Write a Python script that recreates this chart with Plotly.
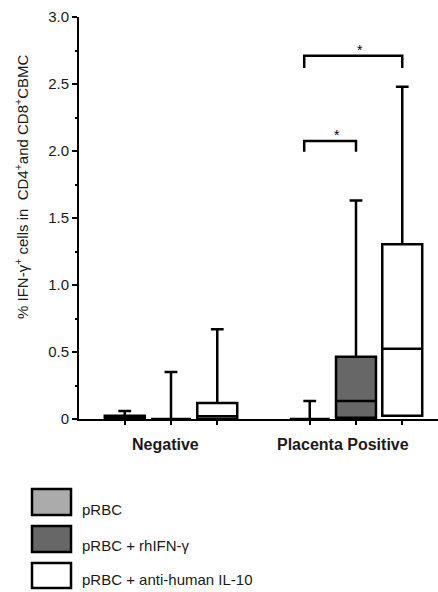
import numpy as np
import plotly.graph_objects as go

# ---------------- data ----------------
CATEGORIES = ["Negative", "Placenta Positive"]
SERIES = ["pRBC", "pRBC + rhIFN-γ", "pRBC + anti-human IL-10"]

# values per category: [Negative, Placenta Positive]
PRBC_Q1 = [0.0, 0.0]
PRBC_MED = [0.0, 0.0]
PRBC_Q3 = [0.025, 0.0]
PRBC_MAX = [0.06, 0.135]

IFN_Q1 = [0.0, 0.01]
IFN_MED = [0.0, 0.135]
IFN_Q3 = [0.0, 0.465]
IFN_MAX = [0.35, 1.63]

IL10_Q1 = [0.0, 0.025]
IL10_MED = [0.02, 0.525]
IL10_Q3 = [0.12, 1.305]
IL10_MAX = [0.67, 2.48]

Y_TICKS = [0, 0.5, 1.0, 1.5, 2.0, 2.5, 3.0]
Y_TICK_LABELS = ["0", "0.5", "1.0", "1.5", "2.0", "2.5", "3.0"]

# significance brackets in the Placenta Positive group (series index pairs)
BRACKET_PAIRS = [(0, 1), (0, 2)]
BRACKET_Y = [2.075, 2.71]
BRACKET_LEG = [0.08, 0.09]
BRACKET_TEXT = ["*", "*"]

# ---------------- style ----------------
FILLS = ["#ababab", "#676767", "#ffffff"]
GROUP_POS = [1.0, 2.0]
OFFSETS = [-0.25, 0.0, 0.25]
BOX_W = 0.216
FONT = "Arial, Liberation Sans, Helvetica, sans-serif"
TXT = "#1a1a1a"

# plot area in pixels
L, R, T, B = 79, 438, 17, 419
W, H = 438, 592


def px_x(px):
    return (px - L) / (R - L)


def px_y(py):
    return (B - py) / (B - T)


stats = [
    (PRBC_Q1, PRBC_MED, PRBC_Q3, PRBC_MAX),
    (IFN_Q1, IFN_MED, IFN_Q3, IFN_MAX),
    (IL10_Q1, IL10_MED, IL10_Q3, IL10_MAX),
]

fig = go.Figure()
all_pos = []
for i, (q1, med, q3, mx) in enumerate(stats):
    xs = [g + OFFSETS[i] for g in GROUP_POS]
    all_pos.extend(xs)
    fig.add_trace(go.Box(
        x=xs, q1=q1, median=med, q3=q3, lowerfence=q1, upperfence=mx,
        width=BOX_W, whiskerwidth=0.32, fillcolor=FILLS[i],
        line=dict(color="black", width=2.5), boxpoints=False,
        name=SERIES[i], showlegend=False, hoverinfo="skip",
    ))

# brackets
annotations = []
g = GROUP_POS[1]
for (a, b), yv, leg, txt in zip(BRACKET_PAIRS, BRACKET_Y, BRACKET_LEG, BRACKET_TEXT):
    xa = g + OFFSETS[a] - 0.03
    xb = g + OFFSETS[b]
    fig.add_trace(go.Scatter(
        x=[xa, xa, xb, xb], y=[yv - leg, yv, yv, yv - leg], mode="lines",
        line=dict(color="black", width=2.5), showlegend=False, hoverinfo="skip",
    ))
    annotations.append(dict(
        x=(xa + xb) / 2, y=yv, xref="x", yref="y", text=txt, showarrow=False,
        xshift=7, yshift=6, font=dict(family=FONT, size=14, color="black"),
        xanchor="center", yanchor="middle",
    ))

# category labels
for cat, gp, sh in zip(CATEGORIES, GROUP_POS, [-6, -13]):
    annotations.append(dict(
        x=gp, y=px_y(444), xref="x", yref="paper", text="<b>" + cat + "</b>",
        showarrow=False, xshift=sh, xanchor="center", yanchor="middle",
        font=dict(family=FONT, size=16, color=TXT),
    ))

# y title
annotations.append(dict(
    x=px_x(22), y=px_y(187), xref="paper", yref="paper",
    text="% IFN-γ<sup>+</sup> cells in  CD4<sup>+</sup>and CD8<sup>+</sup>CBMC",
    textangle=-90, showarrow=False, xanchor="center", yanchor="middle",
    font=dict(family=FONT, size=15, color=TXT),
))

# legend (manual)
shapes = []
LEG_BOX = [(489, 515), (526, 552), (563, 588)]
LEG_TXT_Y = [509, 545, 579]
for i, name in enumerate(SERIES):
    y0, y1 = LEG_BOX[i]
    shapes.append(dict(
        type="rect", xref="paper", yref="paper",
        x0=px_x(32), x1=px_x(71), y0=px_y(y1), y1=px_y(y0),
        fillcolor=FILLS[i], line=dict(color="black", width=2.5),
    ))
    annotations.append(dict(
        x=px_x(80), y=px_y(LEG_TXT_Y[i]), xref="paper", yref="paper",
        text=name, showarrow=False, xanchor="left", yanchor="middle",
        font=dict(family=FONT, size=15, color=TXT),
    ))

x0 = GROUP_POS[0] - (171 - L) / 185.0
x1 = GROUP_POS[1] + (R - 356) / 185.0

fig.update_layout(
    width=W, height=H,
    margin=dict(l=L, r=W - R, t=T, b=H - B, pad=0),
    plot_bgcolor="white", paper_bgcolor="white",
    showlegend=False,
    annotations=annotations, shapes=shapes,
    xaxis=dict(
        range=[x0, x1], tickmode="array", tickvals=all_pos, showticklabels=False,
        ticks="outside", ticklen=4, tickwidth=2, tickcolor="black",
        showline=True, linewidth=2, linecolor="black",
        showgrid=False, zeroline=False, fixedrange=True,
    ),
    yaxis=dict(
        range=[0, 3.0], tickmode="array", tickvals=Y_TICKS, ticktext=Y_TICK_LABELS,
        ticks="outside", ticklen=5, tickwidth=2, tickcolor="black",
        showline=True, linewidth=2, linecolor="black",
        showgrid=False, zeroline=False,
        tickfont=dict(family=FONT, size=15, color=TXT),
        minor=dict(tickmode="array", tickvals=list(np.arange(0.25, 3.0, 0.5)),
                   ticks="outside", ticklen=2, tickwidth=2, tickcolor="black",
                   showgrid=False),
    ),
)

fig.write_html("out.html")
